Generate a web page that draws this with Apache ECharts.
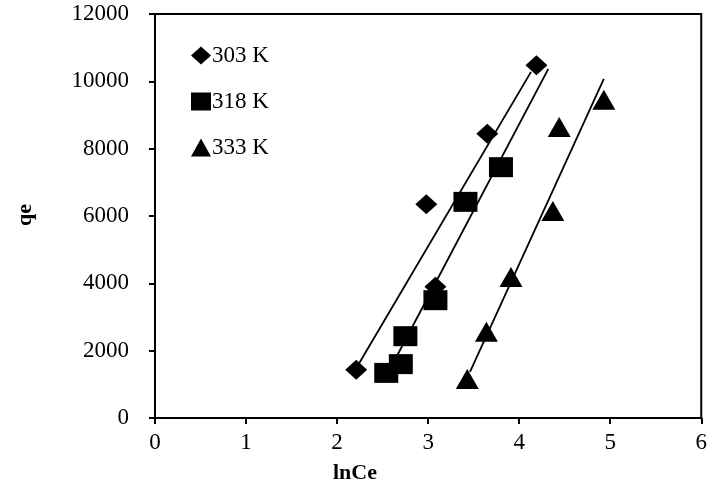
<!DOCTYPE html>
<html>
<head>
<meta charset="utf-8">
<script src="https://cdn.jsdelivr.net/npm/echarts@6/dist/echarts.min.js"></script>
<style>
html,body{margin:0;padding:0;background:#fff;}
#chart{width:710px;height:499px;}
</style>
</head>
<body>
<div id="chart"></div>
<script>
// Data
const xTicks = [0, 1, 2, 3, 4, 5, 6];
const yTicks = [0, 2000, 4000, 6000, 8000, 10000, 12000];

const lnCe303 = [2.21, 2.98, 3.08, 3.65, 4.19];
const qe303   = [1430, 6350, 3900, 8440, 10480];

const lnCe318 = [2.54, 2.70, 2.75, 3.08, 3.41, 3.80];
const qe318   = [1340, 1600, 2430, 3500, 6420, 7450];

const lnCe333 = [3.43, 3.64, 3.91, 4.37, 4.44, 4.93];
const qe333   = [1160, 2560, 4190, 6150, 8640, 9450];

// Linear trend line endpoints
const fit303x = [2.21, 4.13], fit303y = [1480, 10280];
const fit318x = [2.54, 4.32], fit318y = [1240, 10370];
const fit333x = [3.46, 4.93], fit333y = [1370, 10070];

const seriesNames = ['303 K', '318 K', '333 K'];

const zip = (a, b) => a.map((v, i) => [v, b[i]]);
const font = '"Liberation Serif", "Times New Roman", serif';

const chart = echarts.init(document.getElementById('chart'), null, {renderer: 'canvas'});

function scatter(name, xs, ys, symbol, size) {
  return {
    name: name, type: 'scatter', data: zip(xs, ys),
    symbol: symbol, symbolSize: size,
    itemStyle: {color: '#000', opacity: 1}, z: 3, silent: true
  };
}
function fitLine(xs, ys) {
  return {
    type: 'line', data: zip(xs, ys), symbol: 'none', silent: true,
    lineStyle: {color: '#000', width: 1.8}, z: 2
  };
}

chart.setOption({
  animation: false,
  backgroundColor: '#fff',
  grid: {left: 155, right: 6, top: 14, bottom: 81, show: true, borderColor: '#000', borderWidth: 2, backgroundColor: 'transparent'},
  xAxis: {
    type: 'value', min: xTicks[0], max: xTicks[xTicks.length - 1], interval: 1,
    axisLine: {show: true, onZero: false, lineStyle: {color: '#000', width: 2}},
    axisTick: {show: true, inside: false, length: 6, lineStyle: {color: '#000', width: 2}},
    axisLabel: {margin: 13, color: '#000', fontFamily: font, fontSize: 23},
    splitLine: {show: false}
  },
  yAxis: {
    type: 'value', min: yTicks[0], max: yTicks[yTicks.length - 1], interval: 2000,
    axisLine: {show: true, onZero: false, lineStyle: {color: '#000', width: 2}},
    axisTick: {show: true, inside: false, length: 6, lineStyle: {color: '#000', width: 2}},
    axisLabel: {margin: 26, color: '#000', fontFamily: font, fontSize: 23, formatter: v => String(v)},
    splitLine: {show: false}
  },
  legend: {
    data: seriesNames,
    orient: 'vertical', left: 186, top: 39,
    itemWidth: 20, itemHeight: 18, itemGap: 23,
    textStyle: {color: '#000', fontFamily: font, fontSize: 23, padding: [0, 0, 0, -4]},
    selectedMode: false
  },
  graphic: [
    {type: 'text', left: 333, top: 462, style: {text: 'lnCe', font: 'bold 22px ' + font, fill: '#000'}},
    {type: 'text', x: 25, y: 215, rotation: Math.PI / 2, style: {text: 'qe', font: 'bold 22px ' + font, fill: '#000', textAlign: 'center', textVerticalAlign: 'middle'}}
  ],
  series: [
    fitLine(fit303x, fit303y),
    fitLine(fit318x, fit318y),
    fitLine(fit333x, fit333y),
    scatter(seriesNames[0], lnCe303, qe303, 'diamond', [22, 20]),
    scatter(seriesNames[1], lnCe318, qe318, 'rect', [24, 20]),
    scatter(seriesNames[2], lnCe333, qe333, 'triangle', [23, 20])
  ]
});
</script>
</body>
</html>
